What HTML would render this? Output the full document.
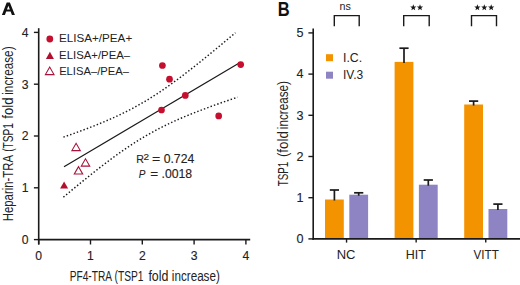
<!DOCTYPE html>
<html><head><meta charset="utf-8"><style>
html,body{margin:0;padding:0;background:#fff;}
body{width:520px;height:285px;overflow:hidden;}
svg{display:block;font-family:"Liberation Sans", sans-serif;}
text{stroke:#222;stroke-width:0.12px;}
text.lt{stroke:none;}
</style></head><body>
<svg width="520" height="285" viewBox="0 0 520 285">
<path fill="#111" fill-rule="evenodd" d="M1.9,14.9 L6.7,2.5 L9.9,2.5 L14.9,14.9 L11.9,14.9 L10.62,11.6 L6.18,11.6 L4.9,14.9 Z M8.4,5.85 L9.85,9.6 L6.95,9.6 Z"/>
<line x1="38.7" y1="28.2" x2="38.7" y2="244.5" stroke="#1a1a1a" stroke-width="1.6"/>
<line x1="37.900000000000006" y1="239.6" x2="250.2" y2="239.6" stroke="#1a1a1a" stroke-width="1.6"/>
<line x1="33.9" y1="239.60" x2="38.7" y2="239.60" stroke="#1a1a1a" stroke-width="1.4"/>
<text x="28.6" y="243.90" font-size="12.2" text-anchor="end" fill="#222">0</text>
<line x1="38.70" y1="239.6" x2="38.70" y2="244.5" stroke="#1a1a1a" stroke-width="1.4"/>
<text x="38.70" y="259.7" font-size="12.2" text-anchor="middle" fill="#222">0</text>
<line x1="33.9" y1="187.80" x2="38.7" y2="187.80" stroke="#1a1a1a" stroke-width="1.4"/>
<text x="28.6" y="192.10" font-size="12.2" text-anchor="end" fill="#222">1</text>
<line x1="90.50" y1="239.6" x2="90.50" y2="244.5" stroke="#1a1a1a" stroke-width="1.4"/>
<text x="90.50" y="259.7" font-size="12.2" text-anchor="middle" fill="#222">1</text>
<line x1="33.9" y1="136.00" x2="38.7" y2="136.00" stroke="#1a1a1a" stroke-width="1.4"/>
<text x="28.6" y="140.30" font-size="12.2" text-anchor="end" fill="#222">2</text>
<line x1="142.30" y1="239.6" x2="142.30" y2="244.5" stroke="#1a1a1a" stroke-width="1.4"/>
<text x="142.30" y="259.7" font-size="12.2" text-anchor="middle" fill="#222">2</text>
<line x1="33.9" y1="84.20" x2="38.7" y2="84.20" stroke="#1a1a1a" stroke-width="1.4"/>
<text x="28.6" y="88.50" font-size="12.2" text-anchor="end" fill="#222">3</text>
<line x1="194.10" y1="239.6" x2="194.10" y2="244.5" stroke="#1a1a1a" stroke-width="1.4"/>
<text x="194.10" y="259.7" font-size="12.2" text-anchor="middle" fill="#222">3</text>
<line x1="33.9" y1="32.40" x2="38.7" y2="32.40" stroke="#1a1a1a" stroke-width="1.4"/>
<text x="28.6" y="36.70" font-size="12.2" text-anchor="end" fill="#222">4</text>
<line x1="245.90" y1="239.6" x2="245.90" y2="244.5" stroke="#1a1a1a" stroke-width="1.4"/>
<text x="245.90" y="259.7" font-size="12.2" text-anchor="middle" fill="#222">4</text>
<text x="69.68" y="280.5" font-size="13.8" font-style="normal" font-weight="normal" textLength="42.42" lengthAdjust="spacingAndGlyphs" fill="#222" class="lt" >PF4-TRA</text>
<text x="114.54" y="280.5" font-size="13.8" font-style="normal" font-weight="normal" textLength="29.01" lengthAdjust="spacingAndGlyphs" fill="#222" class="lt" >(TSP1</text>
<text x="148.38" y="280.5" font-size="13.8" font-style="normal" font-weight="normal" textLength="20.02" lengthAdjust="spacingAndGlyphs" fill="#222" class="lt" >fold</text>
<text x="171.85" y="280.5" font-size="13.8" font-style="normal" font-weight="normal" textLength="47.99" lengthAdjust="spacingAndGlyphs" fill="#222" class="lt" >increase)</text>
<text transform="translate(13.0,221.23) rotate(-90)" x="0" y="0" font-size="13.8" textLength="66.24" lengthAdjust="spacingAndGlyphs" fill="#222" class="lt">Heparin-TRA</text>
<text transform="translate(13.0,151.85) rotate(-90)" x="0" y="0" font-size="13.8" textLength="28.80" lengthAdjust="spacingAndGlyphs" fill="#222" class="lt">(TSP1</text>
<text transform="translate(13.0,118.74) rotate(-90)" x="0" y="0" font-size="13.8" textLength="21.19" lengthAdjust="spacingAndGlyphs" fill="#222" class="lt">fold</text>
<text transform="translate(13.0,94.75) rotate(-90)" x="0" y="0" font-size="13.8" textLength="48.30" lengthAdjust="spacingAndGlyphs" fill="#222" class="lt">increase)</text>
<circle cx="49.8" cy="39.0" r="3.4" fill="#C50F2F"/>
<polygon points="45.90,58.90 53.90,58.90 49.90,51.80" fill="#B30E2E"/>
<polygon points="45.40,74.60 54.00,74.60 49.70,67.00" fill="none" stroke="#A8123A" stroke-width="1.1" stroke-linejoin="miter"/>
<text x="59.10" y="42.4" font-size="11.6" font-style="normal" font-weight="normal" textLength="73.10" lengthAdjust="spacingAndGlyphs" fill="#222" class="lt" >ELISA+/PEA+</text>
<text x="59.12" y="58.7" font-size="11.6" font-style="normal" font-weight="normal" textLength="70.99" lengthAdjust="spacingAndGlyphs" fill="#222" class="lt" >ELISA+/PEA–</text>
<text x="59.13" y="74.7" font-size="11.6" font-style="normal" font-weight="normal" textLength="69.91" lengthAdjust="spacingAndGlyphs" fill="#222" class="lt" >ELISA–/PEA–</text>
<path d="M63.40,137.15 L67.70,135.65 L72.00,134.13 L76.30,132.58 L80.60,131.01 L84.90,129.41 L89.20,127.77 L93.50,126.10 L97.80,124.39 L102.10,122.63 L106.40,120.82 L110.70,118.95 L115.00,117.02 L119.30,115.03 L123.60,112.95 L127.90,110.80 L132.20,108.56 L136.50,106.23 L140.80,103.81 L145.10,101.29 L149.40,98.68 L153.70,95.97 L158.00,93.17 L162.30,90.28 L166.60,87.31 L170.90,84.26 L175.20,81.13 L179.50,77.94 L183.80,74.70 L188.10,71.39 L192.40,68.04 L196.70,64.64 L201.00,61.21 L205.30,57.74 L209.60,54.24 L213.90,50.71 L218.20,47.15 L222.50,43.58 L226.80,39.98 L231.10,36.36 L235.40,32.73" fill="none" stroke="#1a1a1a" stroke-width="1.45" stroke-dasharray="1.45 2.1"/>
<path d="M63.40,197.16 L67.75,193.52 L72.11,189.91 L76.47,186.32 L80.82,182.76 L85.17,179.23 L89.53,175.73 L93.88,172.27 L98.24,168.85 L102.59,165.48 L106.95,162.16 L111.30,158.91 L115.66,155.71 L120.01,152.59 L124.37,149.55 L128.72,146.59 L133.08,143.72 L137.44,140.94 L141.79,138.26 L146.14,135.67 L150.50,133.19 L154.85,130.80 L159.21,128.51 L163.56,126.30 L167.92,124.18 L172.28,122.14 L176.63,120.17 L180.98,118.26 L185.34,116.41 L189.69,114.62 L194.05,112.88 L198.41,111.18 L202.76,109.51 L207.11,107.89 L211.47,106.29 L215.83,104.72 L220.18,103.17 L224.53,101.65 L228.89,100.15 L233.24,98.66 L237.60,97.19" fill="none" stroke="#1a1a1a" stroke-width="1.45" stroke-dasharray="1.45 2.1"/>
<line x1="64.0" y1="166.8" x2="240.5" y2="62.31" stroke="#1a1a1a" stroke-width="1.3"/>
<circle cx="162.4" cy="65.5" r="3.35" fill="#C50F2F"/>
<circle cx="169.5" cy="79.2" r="3.35" fill="#C50F2F"/>
<circle cx="185.3" cy="95.4" r="3.35" fill="#C50F2F"/>
<circle cx="161.5" cy="110.0" r="3.35" fill="#C50F2F"/>
<circle cx="218.7" cy="115.9" r="3.35" fill="#C50F2F"/>
<circle cx="240.7" cy="64.6" r="3.35" fill="#C50F2F"/>
<polygon points="60.10,188.50 68.10,188.50 64.10,181.60" fill="#B30E2E"/>
<polygon points="71.90,150.60 80.30,150.60 76.10,143.30" fill="none" stroke="#A8123A" stroke-width="1.1" stroke-linejoin="miter"/>
<polygon points="81.30,166.10 89.70,166.10 85.50,158.80" fill="none" stroke="#A8123A" stroke-width="1.1" stroke-linejoin="miter"/>
<polygon points="74.30,174.00 82.70,174.00 78.50,166.70" fill="none" stroke="#A8123A" stroke-width="1.1" stroke-linejoin="miter"/>
<text x="136.18" y="163.1" font-size="11.6" font-style="normal" font-weight="normal" textLength="7.69" lengthAdjust="spacingAndGlyphs" fill="#222" class="hv" >R</text>
<text x="143.60" y="160.1" font-size="8.4" font-style="normal" font-weight="normal" textLength="5.61" lengthAdjust="spacingAndGlyphs" fill="#222" class="hv" >2</text>
<text x="151.92" y="163.1" font-size="12.2" font-style="normal" font-weight="normal" textLength="8.31" lengthAdjust="spacingAndGlyphs" fill="#222" class="hv" >=</text>
<text x="163.70" y="163.1" font-size="12.2" font-style="normal" font-weight="normal" textLength="30.55" lengthAdjust="spacingAndGlyphs" fill="#222" class="hv" >0.724</text>
<text x="138.87" y="178.1" font-size="11.6" font-style="italic" font-weight="normal" textLength="6.61" lengthAdjust="spacingAndGlyphs" fill="#222" class="hv" >P</text>
<text x="150.24" y="178.1" font-size="12.2" font-style="normal" font-weight="normal" textLength="7.96" lengthAdjust="spacingAndGlyphs" fill="#222" class="hv" >=</text>
<text x="161.49" y="178.1" font-size="12.2" font-style="normal" font-weight="normal" textLength="30.71" lengthAdjust="spacingAndGlyphs" fill="#222" class="hv" >.0018</text>
<text x="277.85" y="15.75" font-size="19.6" font-style="normal" font-weight="bold" textLength="11.91" lengthAdjust="spacingAndGlyphs" fill="#111" class="lt" >B</text>
<rect x="325.0" y="199.5" width="18.8" height="39.40" fill="#F49300"/>
<rect x="349.30" y="194.7" width="18.8" height="44.20" fill="#8F84C3"/>
<line x1="334.40" y1="190.0" x2="334.40" y2="200.5" stroke="#1a1a1a" stroke-width="1.7"/>
<line x1="329.80" y1="190.0" x2="339.00" y2="190.0" stroke="#1a1a1a" stroke-width="1.7"/>
<line x1="358.70" y1="192.8" x2="358.70" y2="195.7" stroke="#1a1a1a" stroke-width="1.7"/>
<line x1="354.10" y1="192.8" x2="363.30" y2="192.8" stroke="#1a1a1a" stroke-width="1.7"/>
<rect x="394.6" y="61.9" width="18.8" height="177.00" fill="#F49300"/>
<rect x="418.90" y="184.7" width="18.8" height="54.20" fill="#8F84C3"/>
<line x1="404.00" y1="48.2" x2="404.00" y2="62.9" stroke="#1a1a1a" stroke-width="1.7"/>
<line x1="399.40" y1="48.2" x2="408.60" y2="48.2" stroke="#1a1a1a" stroke-width="1.7"/>
<line x1="428.30" y1="180.0" x2="428.30" y2="185.7" stroke="#1a1a1a" stroke-width="1.7"/>
<line x1="423.70" y1="180.0" x2="432.90" y2="180.0" stroke="#1a1a1a" stroke-width="1.7"/>
<rect x="464.2" y="104.5" width="18.8" height="134.40" fill="#F49300"/>
<rect x="488.50" y="209.0" width="18.8" height="29.90" fill="#8F84C3"/>
<line x1="473.60" y1="101.1" x2="473.60" y2="105.5" stroke="#1a1a1a" stroke-width="1.7"/>
<line x1="469.00" y1="101.1" x2="478.20" y2="101.1" stroke="#1a1a1a" stroke-width="1.7"/>
<line x1="497.90" y1="204.1" x2="497.90" y2="210.0" stroke="#1a1a1a" stroke-width="1.7"/>
<line x1="493.30" y1="204.1" x2="502.50" y2="204.1" stroke="#1a1a1a" stroke-width="1.7"/>
<line x1="313.2" y1="28.4" x2="313.2" y2="239.70000000000002" stroke="#1a1a1a" stroke-width="1.6"/>
<line x1="312.4" y1="238.9" x2="520" y2="238.9" stroke="#1a1a1a" stroke-width="1.8"/>
<line x1="308.4" y1="238.90" x2="313.2" y2="238.90" stroke="#1a1a1a" stroke-width="1.4"/>
<text x="303.6" y="243.10" font-size="12.6" text-anchor="end" fill="#222">0</text>
<line x1="308.4" y1="197.70" x2="313.2" y2="197.70" stroke="#1a1a1a" stroke-width="1.4"/>
<text x="303.6" y="201.90" font-size="12.6" text-anchor="end" fill="#222">1</text>
<line x1="308.4" y1="156.50" x2="313.2" y2="156.50" stroke="#1a1a1a" stroke-width="1.4"/>
<text x="303.6" y="160.70" font-size="12.6" text-anchor="end" fill="#222">2</text>
<line x1="308.4" y1="115.30" x2="313.2" y2="115.30" stroke="#1a1a1a" stroke-width="1.4"/>
<text x="303.6" y="119.50" font-size="12.6" text-anchor="end" fill="#222">3</text>
<line x1="308.4" y1="74.10" x2="313.2" y2="74.10" stroke="#1a1a1a" stroke-width="1.4"/>
<text x="303.6" y="78.30" font-size="12.6" text-anchor="end" fill="#222">4</text>
<line x1="308.4" y1="32.90" x2="313.2" y2="32.90" stroke="#1a1a1a" stroke-width="1.4"/>
<text x="303.6" y="37.10" font-size="12.6" text-anchor="end" fill="#222">5</text>
<line x1="346.55" y1="238.9" x2="346.55" y2="242.6" stroke="#1a1a1a" stroke-width="1.4"/>
<line x1="416.15" y1="238.9" x2="416.15" y2="242.6" stroke="#1a1a1a" stroke-width="1.4"/>
<line x1="485.75" y1="238.9" x2="485.75" y2="242.6" stroke="#1a1a1a" stroke-width="1.4"/>
<text x="336.67" y="258.9" font-size="12.6" font-style="normal" font-weight="normal" textLength="18.80" lengthAdjust="spacingAndGlyphs" fill="#222" class="lt" >NC</text>
<text x="405.81" y="258.9" font-size="12.6" font-style="normal" font-weight="normal" textLength="20.08" lengthAdjust="spacingAndGlyphs" fill="#222" class="lt" >HIT</text>
<text x="473.47" y="258.9" font-size="12.6" font-style="normal" font-weight="normal" textLength="25.31" lengthAdjust="spacingAndGlyphs" fill="#222" class="lt" >VITT</text>
<text transform="translate(287.6,186.28) rotate(-90)" x="0" y="0" font-size="13.8" textLength="24.62" lengthAdjust="spacingAndGlyphs" fill="#222" class="lt">TSP1</text>
<text transform="translate(287.6,157.12) rotate(-90)" x="0" y="0" font-size="13.8" textLength="25.94" lengthAdjust="spacingAndGlyphs" fill="#222" class="lt">(fold</text>
<text transform="translate(287.6,129.15) rotate(-90)" x="0" y="0" font-size="13.8" textLength="47.99" lengthAdjust="spacingAndGlyphs" fill="#222" class="lt">increase)</text>
<rect x="326" y="54.2" width="7" height="7" fill="#F49300"/>
<rect x="326" y="71.7" width="7" height="7" fill="#8F84C3"/>
<text x="343.00" y="61.7" font-size="12.8" font-style="normal" font-weight="normal" textLength="19.13" lengthAdjust="spacingAndGlyphs" fill="#222" class="lt" >I.C.</text>
<text x="343.03" y="79.4" font-size="12.8" font-style="normal" font-weight="normal" textLength="20.23" lengthAdjust="spacingAndGlyphs" fill="#222" class="lt" >IV.3</text>
<path d="M334.3 26.3 V15.6 H359.2 V26.3" fill="none" stroke="#1a1a1a" stroke-width="1.4"/>
<path d="M403.7 26.3 V15.6 H429.2 V26.3" fill="none" stroke="#1a1a1a" stroke-width="1.4"/>
<path d="M471.5 26.3 V15.6 H496.5 V26.3" fill="none" stroke="#1a1a1a" stroke-width="1.4"/>
<text x="339.54" y="10.0" font-size="10.5" font-style="normal" font-weight="normal" textLength="11.32" lengthAdjust="spacingAndGlyphs" fill="#222" class="lt" >ns</text>
<polygon points="413.30,4.35 414.12,6.47 416.39,6.60 414.63,8.03 415.21,10.23 413.30,9.00 411.39,10.23 411.97,8.03 410.21,6.60 412.48,6.47" fill="#1a1a1a"/>
<polygon points="420.00,4.35 420.82,6.47 423.09,6.60 421.33,8.03 421.91,10.23 420.00,9.00 418.09,10.23 418.67,8.03 416.91,6.60 419.18,6.47" fill="#1a1a1a"/>
<polygon points="477.40,4.35 478.22,6.47 480.49,6.60 478.73,8.03 479.31,10.23 477.40,9.00 475.49,10.23 476.07,8.03 474.31,6.60 476.58,6.47" fill="#1a1a1a"/>
<polygon points="484.30,4.35 485.12,6.47 487.39,6.60 485.63,8.03 486.21,10.23 484.30,9.00 482.39,10.23 482.97,8.03 481.21,6.60 483.48,6.47" fill="#1a1a1a"/>
<polygon points="491.20,4.35 492.02,6.47 494.29,6.60 492.53,8.03 493.11,10.23 491.20,9.00 489.29,10.23 489.87,8.03 488.11,6.60 490.38,6.47" fill="#1a1a1a"/>
</svg>
</body></html>
